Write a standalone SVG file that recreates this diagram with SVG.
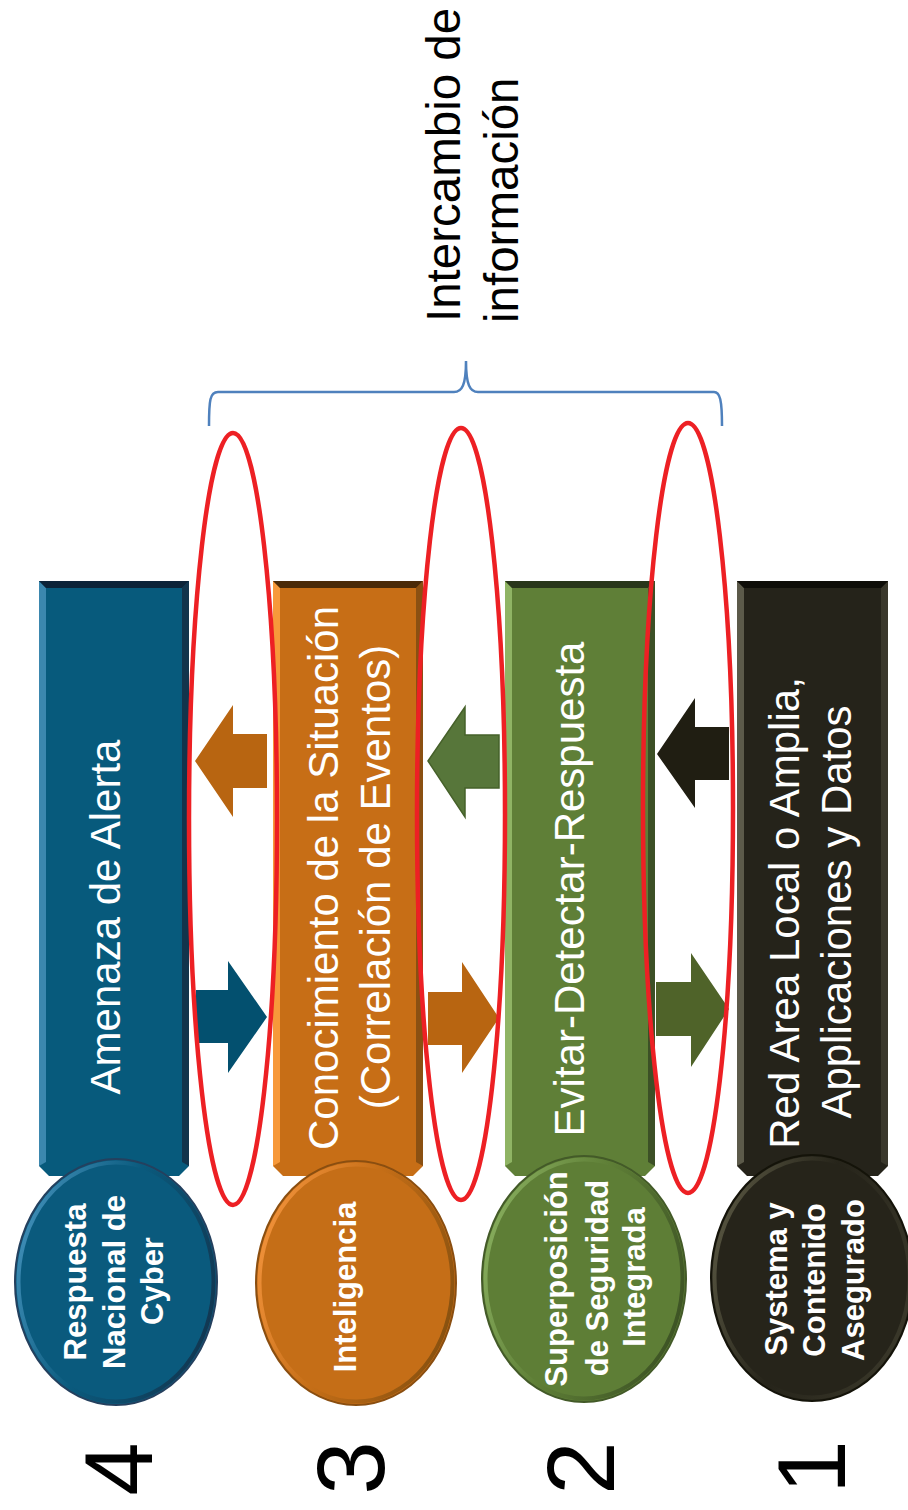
<svg xmlns="http://www.w3.org/2000/svg" width="908" height="1510" viewBox="0 0 908 1510">
<defs>
<style>
.bt{font-family:"Liberation Sans",Arial,sans-serif;font-size:42px;fill:#ffffff;text-anchor:middle}
.nt{font-family:"Liberation Sans",Arial,sans-serif;font-size:31px;font-weight:bold;fill:#ffffff;text-anchor:middle}
.num{font-family:"Liberation Sans",Arial,sans-serif;font-size:96px;fill:#000000;text-anchor:middle}
.info{font-family:"Liberation Sans",Arial,sans-serif;font-size:47.5px;fill:#000000;text-anchor:start}
.red{fill:none;stroke:#ED2024;stroke-width:4.5}
.brace{fill:none;stroke:#4F81BD;stroke-width:2.5}
</style>
<linearGradient id="rimBlue" x1="0" y1="0.3" x2="1" y2="0.7"><stop offset="0" stop-color="#3F8DB6"/><stop offset="0.45" stop-color="#0A5A7D"/><stop offset="1" stop-color="#123650"/></linearGradient>
<linearGradient id="rimOrange" x1="0" y1="0.3" x2="1" y2="0.7"><stop offset="0" stop-color="#F0913A"/><stop offset="0.45" stop-color="#C56E17"/><stop offset="1" stop-color="#86500F"/></linearGradient>
<linearGradient id="rimGreen" x1="0" y1="0.3" x2="1" y2="0.7"><stop offset="0" stop-color="#86AC5C"/><stop offset="0.45" stop-color="#5E7E36"/><stop offset="1" stop-color="#3C5224"/></linearGradient>
<linearGradient id="rimDark" x1="0" y1="0.3" x2="1" y2="0.7"><stop offset="0" stop-color="#55533F"/><stop offset="0.45" stop-color="#26241A"/><stop offset="1" stop-color="#3A382A"/></linearGradient>
</defs>
<rect width="908" height="1510" fill="#ffffff"/>

<!-- Bars -->
<g id="bar4" transform="translate(39,0)">
<polygon points="0,581 150,581 150,1166 140,1176 10,1176 0,1166" fill="#075A7C"/>
<polygon points="0,581 7,588 7,1162 0,1166" fill="#3B87AE"/>
<polygon points="150,581 143,588 143,1162 150,1166" fill="#12344C"/>
<polygon points="0,581 150,581 143,588 7,588" fill="#0C2338"/>
<text class="bt" transform="translate(81,917) rotate(-90)">Amenaza de Alerta</text>
</g>
<g id="bar3" transform="translate(273,0)">
<polygon points="0,581 150,581 150,1166 140,1176 10,1176 0,1166" fill="#C76E16"/>
<polygon points="0,581 7,588 7,1162 0,1166" fill="#F7993A"/>
<polygon points="150,581 143,588 143,1162 150,1166" fill="#8A5012"/>
<polygon points="0,581 150,581 143,588 7,588" fill="#4A2A08"/>
<text class="bt" transform="translate(65,878) rotate(-90)">Conocimiento de la Situación</text>
<text class="bt" transform="translate(117,877) rotate(-90)">(Correlación de Eventos)</text>
</g>
<g id="bar2" transform="translate(505,0)">
<polygon points="0,581 150,581 150,1166 140,1176 10,1176 0,1166" fill="#5F7F37"/>
<polygon points="0,581 7,588 7,1162 0,1166" fill="#8FB464"/>
<polygon points="150,581 143,588 143,1162 150,1166" fill="#3C5026"/>
<polygon points="0,581 150,581 143,588 7,588" fill="#28361A"/>
<text class="bt" transform="translate(79,889) rotate(-90)">Evitar-Detectar-Respuesta</text>
</g>
<g id="bar1" transform="translate(737,0)">
<polygon points="0,581 151,581 151,1166 141,1176 10,1176 0,1166" fill="#25231A"/>
<polygon points="0,581 7,588 7,1162 0,1166" fill="#5C5A4A"/>
<polygon points="151,581 144,588 144,1162 151,1166" fill="#3A382C"/>
<polygon points="0,581 151,581 144,588 7,588" fill="#0E0D08"/>
<text class="bt" transform="translate(62,913) rotate(-90)">Red Area Local o Amplia,</text>
<text class="bt" transform="translate(114,912) rotate(-90)">Applicaciones y Datos</text>
</g>

<!-- Connectors -->
<g id="connectors">
<polygon points="195,761 233,705 233,734 267,734 267,788 233,788 233,817" fill="#B86511"/>
<polygon points="196,990 228,990 228,961 267,1017 228,1073 228,1043 196,1043" fill="#03506F"/>
<polygon points="428,761 465,707 465,735 499,735 499,788 465,788 465,817" fill="#57763A" stroke="#46612A" stroke-width="1.5"/>
<polygon points="428,992 462,992 462,962 499,1018 462,1073 462,1045 428,1045" fill="#B86511"/>
<polygon points="657,754 695,698 695,727 729,727 729,780 695,780 695,808" fill="#201E12"/>
<polygon points="656,982 691,982 691,953 729,1009 691,1067 691,1036 656,1036" fill="#4F6329"/>
<path class="brace" d="M209,426 C209,400 210,392 218,392 L454,392 C462,392 466,385 466,361 C466,385 470,392 478,392 L714,392 C720,392 722,400 722,426"/>
</g>

<!-- Red highlight ellipses -->
<g id="highlights">
<ellipse class="red" cx="233" cy="819" rx="44" ry="386"/>
<ellipse class="red" cx="461" cy="814" rx="44" ry="386"/>
<ellipse class="red" cx="688" cy="808" rx="45" ry="385"/>
</g>

<!-- Circles -->
<g id="node4">
<ellipse cx="116" cy="1282" rx="101" ry="123" fill="#0A5A7D" stroke="#24405E" stroke-width="2"/>
<ellipse cx="116" cy="1282" rx="97.5" ry="119.5" fill="none" stroke="url(#rimBlue)" stroke-width="4"/>
<text class="nt" transform="translate(85.5,1282) rotate(-90)">Respuesta</text>
<text class="nt" transform="translate(124.5,1282) rotate(-90)">Nacional de</text>
<text class="nt" transform="translate(162.5,1281) rotate(-90)">Cyber</text>
</g>
<g id="node3">
<ellipse cx="356" cy="1283" rx="100" ry="122" fill="#C56E17" stroke="#8A4E10" stroke-width="2"/>
<ellipse cx="356" cy="1283" rx="96.5" ry="118.5" fill="none" stroke="url(#rimOrange)" stroke-width="4"/>
<text class="nt" transform="translate(355.5,1287) rotate(-90)">Inteligencia</text>
</g>
<g id="node2">
<ellipse cx="584" cy="1279" rx="102" ry="123" fill="#5E7E36" stroke="#435A28" stroke-width="2"/>
<ellipse cx="584" cy="1279" rx="98.5" ry="119.5" fill="none" stroke="url(#rimGreen)" stroke-width="4"/>
<text class="nt" transform="translate(566.5,1279) rotate(-90)">Superposición</text>
<text class="nt" transform="translate(608,1278) rotate(-90)">de Seguridad</text>
<text class="nt" transform="translate(644.5,1277) rotate(-90)">Integrada</text>
</g>
<g id="node1">
<ellipse cx="812" cy="1278" rx="101" ry="123" fill="#26241A" stroke="#141309" stroke-width="2"/>
<ellipse cx="812" cy="1278" rx="97.5" ry="119.5" fill="none" stroke="url(#rimDark)" stroke-width="4"/>
<text class="nt" transform="translate(786.5,1279) rotate(-90)">Systema y</text>
<text class="nt" transform="translate(824.5,1280) rotate(-90)">Contenido</text>
<text class="nt" transform="translate(863.5,1280) rotate(-90)">Asegurado</text>
</g>

<!-- Level numbers -->
<g id="numbers">
<text class="num" transform="translate(152,1469) rotate(-90)">4</text>
<text class="num" transform="translate(384,1468) rotate(-90)">3</text>
<text class="num" transform="translate(614,1468) rotate(-90)">2</text>
<text class="num" transform="translate(845,1467) rotate(-90)">1</text>
</g>

<!-- Label -->
<g id="label">
<text class="info" transform="translate(460,322) rotate(-90)">Intercambio de</text>
<text class="info" transform="translate(518,323) rotate(-90)">información</text>
</g>
</svg>
